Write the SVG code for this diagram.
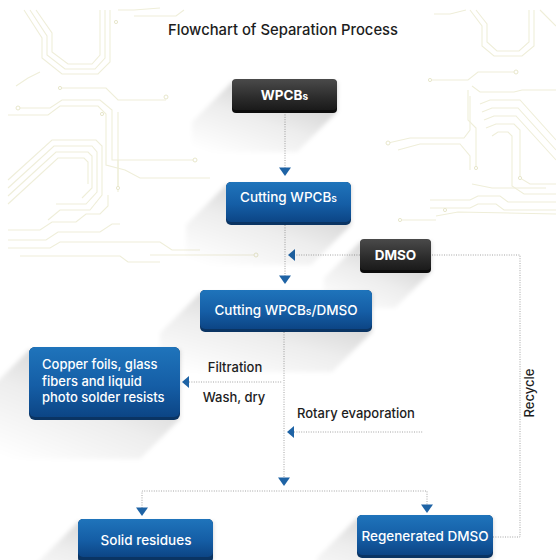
<svg xmlns="http://www.w3.org/2000/svg" xmlns:xlink="http://www.w3.org/1999/xlink" width="556" height="560" viewBox="0 0 556 560">
  <defs>
    <style>
      .trace { fill: none; stroke: #efeed9; stroke-width: 1.1; }
      .pad { fill: #fff; stroke: #e8e7cc; stroke-width: 1; }
      .dot { fill: none; stroke: #a4a4a4; stroke-width: 1; stroke-dasharray: 1 1.4; }
      .arr { fill: #1e63a5; }
      .shadow { fill: url(#shadowGrad); filter: url(#soft); }
      .blue { fill: url(#blueGrad); }
      .dark { fill: url(#darkGrad); }
      .edgeBlue { fill: #0a3463; }
      .edgeDark { fill: #0c0c0c; }
      .lbl { font-family: Inter, "Liberation Sans", sans-serif; fill: #ffffff; font-size: 13.5px; font-weight: 500; text-anchor: middle; }
      .lblLeft { font-family: Inter, "Liberation Sans", sans-serif; fill: #ffffff; font-size: 13px; font-weight: 500; }
      .lblBold { font-family: Inter, "Liberation Sans", sans-serif; fill: #ffffff; font-size: 13.5px; font-weight: 700; text-anchor: middle; }
      .note { font-family: Inter, "Liberation Sans", sans-serif; fill: #1d1d1d; font-size: 13px; font-weight: 500; }
      .title { font-family: Inter, "Liberation Sans", sans-serif; fill: #1d1d1d; font-size: 14.8px; font-weight: 500; text-anchor: middle; }
    </style>
    <linearGradient id="blueGrad" x1="0" y1="0" x2="0" y2="1">
      <stop offset="0" stop-color="#1f74bb"/>
      <stop offset="0.55" stop-color="#155ea6"/>
      <stop offset="1" stop-color="#0c4585"/>
    </linearGradient>
    <linearGradient id="darkGrad" x1="0" y1="0" x2="0" y2="1">
      <stop offset="0" stop-color="#4a4a4a"/>
      <stop offset="0.6" stop-color="#2c2c2c"/>
      <stop offset="1" stop-color="#1a1a1a"/>
    </linearGradient>
    <linearGradient id="shadowGrad" x1="0.75" y1="0.05" x2="0.1" y2="1">
      <stop offset="0" stop-color="#000" stop-opacity="0.2"/>
      <stop offset="0.5" stop-color="#000" stop-opacity="0.07"/>
      <stop offset="1" stop-color="#000" stop-opacity="0"/>
    </linearGradient>
    <filter id="soft" x="-20%" y="-20%" width="140%" height="140%">
      <feGaussianBlur stdDeviation="2"/>
    </filter>
    <path id="ad" d="M-6,-4.5 L6,-4.5 L0,4 Z"/>
    <path id="al" d="M0,0 L7,-6 L7,6 Z"/>
  </defs>

  <rect width="556" height="560" fill="#ffffff"/>

  <!-- faint circuit-board traces in the background -->
  <g id="background">
    <g class="trace">
      <!-- upper-left loop bundle -->
      <path d="M24,10 L42,38 L42,58 L62,74 L98,74 L110,62 L110,10"/>
      <path d="M30,10 L47,36 L47,55 L65,69 L95,69 L105,58 L105,10"/>
      <path d="M36,10 L52,33 L52,52 L68,64 L92,64 L100,55 L100,10"/>
      <path d="M118,10 L134,10 L160,8"/>
      <path d="M134,16 L176,16 L184,10"/>
      <path d="M16,86 L28,78 L40,72"/>
      <!-- middle-left traces -->
      <path d="M60,88 L106,88 L118,100 L166,100"/>
      <path d="M18,108 L50,108 L62,100 L100,100 L112,110 L112,160 L128,160 L195,160"/>
      <path d="M8,115 L48,115 L60,106 L98,106 L106,114 L106,165 L125,170 L140,178 L210,178"/>
      <path d="M8,180 L52,140 L96,140 L102,146 L102,195 L90,210 L60,210 L48,220"/>
      <path d="M8,188 L54,146 L92,146 L97,152 L97,192 L86,204 L56,204"/>
      <path d="M8,196 L56,152 L88,152 L92,156 L92,188 L82,198"/>
      <path d="M8,204 L58,158 L84,158 L88,162 L88,184"/>
      <path d="M118,112 L118,188"/>
      <path d="M118,160 L118,192"/>
      <path d="M8,230 L40,230 L52,222 L76,222 L86,214 L100,214 L108,206 L108,195"/>
      <path d="M8,240 L46,240 L58,232 L100,232 L112,224 L120,224"/>
      <path d="M8,248 L50,248 L60,242 L160,242 L172,250 L200,250"/>
      <path d="M20,256 L120,256 L128,262 L160,262"/>
      <path d="M150,255 L255,255"/>
      <!-- upper-right traces -->
      <path d="M470,10 L482,26 L482,46 L494,56 L522,56 L534,46 L534,10"/>
      <path d="M476,10 L487,24 L487,42 L497,51 L519,51 L529,42 L529,10"/>
      <path d="M434,14 L450,14 L466,10"/>
      <path d="M430,80 L468,80 L478,72 L516,72"/>
      <path d="M472,86 L480,92 L514,92 L522,90 L556,90"/>
      <path d="M468,90 L468,120 L476,128 L476,168"/>
      <path d="M388,143 L410,138 L464,138 L470,130 L470,96"/>
      <path d="M398,150 L420,144 L460,144 L470,156 L470,170"/>
      <path d="M480,104 L490,100 L520,100 L556,140"/>
      <path d="M482,112 L492,108 L518,108 L556,150"/>
      <path d="M484,120 L494,116 L516,116 L556,160"/>
      <path d="M486,128 L496,124 L514,124 L520,130 L520,178 L530,184 L556,184"/>
      <path d="M492,136 L498,132 L508,132 L512,136 L512,186 L524,194 L556,194"/>
      <path d="M472,184 L492,188 L546,188"/>
      <path d="M430,200 L470,200 L478,196 L500,196 L508,202 L556,202"/>
      <path d="M430,208 L470,208 L478,204 L496,204 L504,210 L556,210"/>
      <path d="M436,216 L458,212 L556,214"/>
      <path d="M400,220 L436,220"/>
      <path d="M540,10 L556,26"/>
    </g>
    <g class="pad">
      <circle cx="166" cy="97" r="2"/>
      <circle cx="18" cy="108" r="2"/>
      <circle cx="195" cy="160" r="2"/>
      <circle cx="256" cy="255" r="2"/>
      <circle cx="118" cy="188" r="1.6"/>
      <circle cx="102" cy="114" r="1.6"/>
      <circle cx="60" cy="88" r="1.6"/>
      <circle cx="116" cy="22" r="1.6"/>
      <circle cx="388" cy="143" r="2"/>
      <circle cx="430" cy="80" r="1.6"/>
      <circle cx="516" cy="72" r="2"/>
      <circle cx="476" cy="168" r="1.6"/>
      <circle cx="520" cy="178" r="1.6"/>
      <circle cx="400" cy="220" r="1.6"/>
      <circle cx="445" cy="210" r="1.6"/>
    </g>
  </g>

  <!-- title -->
  <text class="title" x="283" y="35">Flowchart of Separation Process</text>

  <!-- connectors -->
  <g id="connectors">
    <path class="dot" d="M285,112 V168"/>
    <path class="dot" d="M285,225 V276"/>
    <path class="dot" d="M294,255 H360"/>
    <path class="dot" d="M493,537 H520 V255 H431"/>
    <path class="dot" d="M284,332 V478"/>
    <path class="dot" d="M189,382 H282"/>
    <path class="dot" d="M294,432 H423"/>
    <path class="dot" d="M142,508 V491 H427 V505"/>
    <g class="arr">
      <use xlink:href="#ad" x="285" y="172"/>
      <use xlink:href="#ad" x="285" y="280"/>
      <use xlink:href="#al" x="288" y="255"/>
      <use xlink:href="#ad" x="284" y="482"/>
      <use xlink:href="#al" x="182" y="382"/>
      <use xlink:href="#al" x="287" y="432"/>
      <use xlink:href="#ad" x="142" y="512"/>
      <use xlink:href="#ad" x="427" y="509"/>
    </g>
    <text class="note" x="235" y="372" text-anchor="middle">Filtration</text>
    <text class="note" x="234" y="402" text-anchor="middle">Wash, dry</text>
    <text class="note" x="297" y="418">Rotary evaporation</text>
    <text class="note" x="0" y="0" font-size="11.5" font-weight="400" fill="#3a3a3a" text-anchor="middle" transform="translate(534,393) rotate(-90)">Recycle</text>
  </g>

  <!-- nodes -->
  <g id="node-wpcbs">
    <polygon class="shadow" points="232,82 337,82 337,112 297,152 192,152 192,122"/>
    <rect class="edgeDark" x="232" y="80" width="105" height="33" rx="4"/>
    <rect class="dark" x="232" y="79" width="105" height="31" rx="4"/>
    <text class="lblBold" x="284.5" y="100">WPCB<tspan font-size="10">s</tspan></text>
  </g>

  <g id="node-cutting">
    <polygon class="shadow" points="226,185 351,185 351,225 311,265 186,265 186,225"/>
    <rect class="edgeBlue" x="226" y="182" width="125" height="43" rx="5"/>
    <rect class="blue" x="226" y="182" width="125" height="40" rx="5"/>
    <text class="lbl" x="288.5" y="202">Cutting WPCB<tspan font-size="10.5">s</tspan></text>
  </g>

  <g id="node-dmso">
    <polygon class="shadow" points="360,242 431,242 431,272 395,308 324,308 324,278"/>
    <rect class="edgeDark" x="360" y="240" width="71" height="33" rx="4"/>
    <rect class="dark" x="360" y="239" width="71" height="31" rx="4"/>
    <text class="lblBold" x="395.5" y="260">DMSO</text>
  </g>

  <g id="node-cutting-dmso">
    <polygon class="shadow" points="200,293 372,293 372,332 332,372 160,372 160,333"/>
    <rect class="edgeBlue" x="200" y="290" width="172" height="42" rx="5"/>
    <rect class="blue" x="200" y="290" width="172" height="39" rx="5"/>
    <text class="lbl" x="286" y="315">Cutting WPCB<tspan font-size="10.5">s</tspan>/DMSO</text>
  </g>

  <g id="node-copper">
    <polygon class="shadow" points="29,350 180,350 180,419 140,459 -11,459 -11,390"/>
    <rect class="edgeBlue" x="29" y="347" width="151" height="73" rx="6"/>
    <rect class="blue" x="29" y="347" width="151" height="70" rx="6"/>
    <text class="lblLeft" x="42" y="369">Copper foils, glass</text>
    <text class="lblLeft" x="42" y="386">fibers and liquid</text>
    <text class="lblLeft" x="42" y="402">photo solder resists</text>
  </g>

  <g id="node-solid">
    <polygon class="shadow" points="78,522 213,522 213,560 173,600 38,600 38,562"/>
    <rect class="edgeBlue" x="78" y="519" width="135" height="44" rx="5"/>
    <rect class="blue" x="78" y="519" width="135" height="38" rx="5"/>
    <text class="lbl" x="146" y="545">Solid residues</text>
  </g>

  <g id="node-regenerated">
    <polygon class="shadow" points="357,518 493,518 493,557 453,597 317,597 317,558"/>
    <rect class="edgeBlue" x="357" y="515" width="136" height="43" rx="5"/>
    <rect class="blue" x="357" y="515" width="136" height="40" rx="5"/>
    <text class="lbl" x="425" y="541">Regenerated DMSO</text>
  </g>
</svg>
